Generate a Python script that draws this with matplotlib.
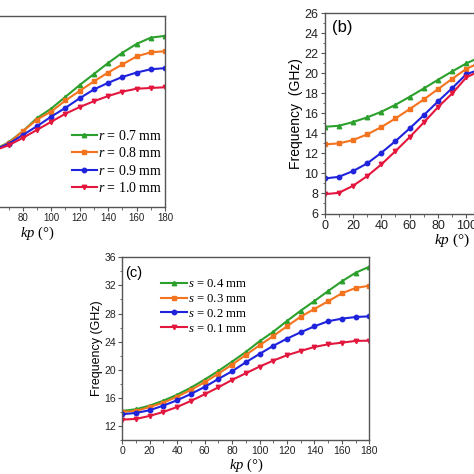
import numpy as np
import matplotlib
matplotlib.use("Agg")
import matplotlib.pyplot as plt
from matplotlib.ticker import MultipleLocator

plt.rcParams["mathtext.fontset"] = "custom"
plt.rcParams["mathtext.it"] = "Liberation Serif:italic"
plt.rcParams["mathtext.rm"] = "Liberation Serif"

kp = np.arange(0, 181, 10)

# panel (a): r sweep
r_labels = ["0.7", "0.8", "0.9", "1.0"]
a_r07 = [13.9, 14.0, 14.2, 14.5, 14.9, 15.3, 15.8, 16.8, 18.3, 20.1, 21.4, 23.0, 24.6, 26.1, 27.6, 29.0, 30.2, 31.05, 31.3]
a_r08 = [13.8, 13.9, 14.1, 14.4, 14.8, 15.3, 15.8, 16.7, 18.3, 19.9, 21.0, 22.5, 23.8, 25.1, 26.3, 27.4, 28.5, 29.06, 29.2]
a_r09 = [13.7, 13.8, 14.0, 14.4, 14.8, 15.3, 15.8, 16.6, 17.8, 19.0, 20.3, 21.5, 22.8, 24.0, 24.9, 25.7, 26.3, 26.75, 26.9]
a_r10 = [13.6, 13.7, 13.9, 14.3, 14.7, 15.2, 15.7, 16.4, 17.4, 18.5, 19.6, 20.7, 21.6, 22.4, 23.1, 23.7, 24.1, 24.2, 24.3]

# panel (b)
b_1 = [14.66, 14.76, 15.13, 15.6, 16.16, 16.86, 17.66, 18.5, 19.36, 20.2, 21.0, 21.65, 22.2, 22.6, 23.0, 23.3, 23.5, 23.6, 23.6]
b_2 = [12.9, 13.0, 13.33, 13.9, 14.63, 15.5, 16.43, 17.4, 18.43, 19.46, 20.46, 21.1, 21.6, 22.0, 22.3, 22.5, 22.7, 22.8, 22.8]
b_3 = [9.5, 9.66, 10.23, 11.0, 12.06, 13.23, 14.5, 15.83, 17.2, 18.53, 19.93, 20.4, 20.8, 21.1, 21.4, 21.6, 21.7, 21.8, 21.8]
b_4 = [7.93, 8.06, 8.76, 9.73, 10.9, 12.23, 13.63, 15.1, 16.63, 18.0, 19.6, 20.3, 20.7, 21.0, 21.3, 21.5, 21.6, 21.7, 21.7]

# panel (c): s sweep
s_labels = ["0.4", "0.3", "0.2", "0.1"]
c_s04 = [14.14, 14.38, 14.9, 15.6, 16.45, 17.45, 18.6, 19.83, 21.15, 22.53, 24.05, 25.4, 26.94, 28.4, 29.78, 31.2, 32.58, 33.8, 34.66]
c_s03 = [14.0, 14.14, 14.7, 15.32, 16.17, 17.12, 18.22, 19.44, 20.72, 22.1, 23.48, 24.8, 26.18, 27.55, 28.65, 29.74, 30.88, 31.63, 31.96]
c_s02 = [13.67, 13.85, 14.24, 14.9, 15.66, 16.55, 17.55, 18.69, 19.78, 21.06, 22.25, 23.4, 24.42, 25.33, 26.18, 26.9, 27.27, 27.5, 27.6]
c_s01 = [12.9, 13.0, 13.43, 14.0, 14.7, 15.56, 16.5, 17.5, 18.55, 19.5, 20.44, 21.3, 22.06, 22.67, 23.24, 23.62, 23.85, 24.1, 24.14]

colors = ["#2ca02c", "#f4731e", "#1f24dc", "#e3173e"]
markers = ["^", "s", "o", "v"]

SANS = "Liberation Sans"
SERIF = "Liberation Serif"
spine_col = "#555555"

W = 474.0
fig = plt.figure(figsize=(4.74, 4.74), dpi=100)


def px_axes(left, right, top, bottom):
    return fig.add_axes([left / W, (W - bottom) / W, (right - left) / W, (bottom - top) / W])


def style(ax, fs, ymaj, ymin):
    for s in ax.spines.values():
        s.set_color(spine_col)
        s.set_linewidth(1.0)
    ax.set_xlim(0, 180)
    ax.xaxis.set_major_locator(MultipleLocator(20))
    ax.xaxis.set_minor_locator(MultipleLocator(10))
    ax.yaxis.set_major_locator(MultipleLocator(ymaj))
    ax.yaxis.set_minor_locator(MultipleLocator(ymin))
    ax.tick_params(which="both", direction="out", color=spine_col, top=False, right=False)
    ax.tick_params(which="major", length=3, width=0.8, labelsize=fs, pad=1.5)
    ax.tick_params(which="minor", length=1.8, width=0.6)
    for lab in ax.get_xticklabels() + ax.get_yticklabels():
        lab.set_fontfamily(SANS)
        lab.set_color("#222222")


def draw(ax, series, labels=None, prefix=None):
    for i, ys in enumerate(series):
        lab = None
        if labels is not None:
            lab = "$\\it{" + prefix + "}$ = " + labels[i] + " mm"
        ax.plot(kp, ys, color=colors[i], marker=markers[i], ms=3.2, lw=1.5, label=lab)


def kp_label(ax, fs, pad):
    ax.set_xlabel("$\\it{kp}$ (°)", fontfamily=SERIF, fontsize=fs, labelpad=pad)


# (a) -- only the right part lies inside the figure
ax_a = px_axes(-91, 165, 16, 207)
draw(ax_a, [a_r07, a_r08, a_r09, a_r10], r_labels, "r")
ax_a.set_ylim(8, 34)
style(ax_a, 7, 4, 2)
ax_a.set_xticks(kp[::2])
ax_a.set_xticklabels([str(v) if v >= 80 else "" for v in kp[::2]], fontfamily=SANS, color="#222222")
ax_a.tick_params(axis="y", labelleft=False)
kp_label(ax_a, 10.5, 1)
ax_a.legend(loc="upper left", bbox_to_anchor=(0.636, 0.41), frameon=False,
            prop={"family": SERIF, "size": 10}, handlelength=1.8,
            handletextpad=0.1, labelspacing=0.25, borderpad=0, borderaxespad=0)

# (b)
ax_b = px_axes(324.5, 580, 13.3, 213.5)
draw(ax_b, [b_1, b_2, b_3, b_4])
ax_b.set_ylim(6, 26)
style(ax_b, 9, 2, 1)
ax_b.set_ylabel("Frequency  (GHz)", fontfamily=SANS, fontsize=10, labelpad=1)
kp_label(ax_b, 11, 0)
ax_b.text(0.03, 0.93, "(b)", transform=ax_b.transAxes, fontfamily=SANS, fontsize=12, va="center", ha="left")

# (c)
ax_c = px_axes(122.3, 369.3, 257.3, 440)
draw(ax_c, [c_s04, c_s03, c_s02, c_s01], s_labels, "s")
ax_c.set_ylim(10, 36)
style(ax_c, 7.5, 4, 2)
ax_c.set_ylabel("Frequency (GHz)", fontfamily=SANS, fontsize=9, labelpad=1)
kp_label(ax_c, 10.5, 0)
ax_c.text(0.012, 0.915, "(c)", transform=ax_c.transAxes, fontfamily=SANS, fontsize=10.5, va="center", ha="left")
ax_c.legend(loc="upper left", bbox_to_anchor=(0.157, 0.885), frameon=False,
            prop={"family": SERIF, "size": 9.2}, handlelength=2.0,
            handletextpad=0.1, labelspacing=0.22, borderpad=0, borderaxespad=0)

fig.savefig("out.png", dpi=100)
